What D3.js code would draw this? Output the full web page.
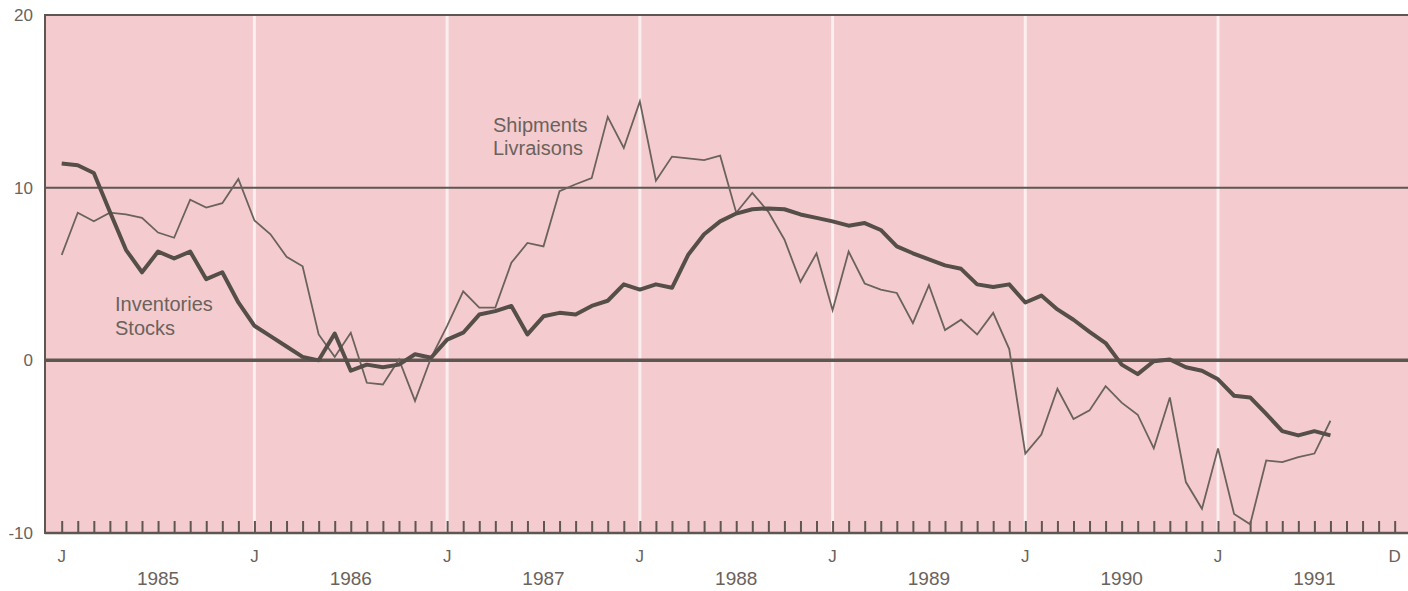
<!DOCTYPE html>
<meta charset="utf-8">
<style>
  body { margin: 0; background: #fff; }
  svg { display: block; }
  text { font-family: "Liberation Sans", Arial, Helvetica, sans-serif; fill: #6b625c; }
</style>
<svg width="1408" height="591"></svg>
<script src="https://d3js.org/d3.v7.min.js"></script>
<script>

// monthly % change, Jan 1985 .. Aug 1991
var inventories = [11.4, 11.3, 10.85, 8.6, 6.4, 5.1, 6.3, 5.9, 6.3, 4.7,
  5.1, 3.35, 2.0, 1.4, 0.8, 0.2, 0, 1.55, -0.6, -0.25,
  -0.4, -0.25, 0.35, 0.15, 1.2, 1.6, 2.65, 2.85, 3.15, 1.5,
  2.55, 2.75, 2.65, 3.15, 3.45, 4.4, 4.1, 4.4, 4.2, 6.1,
  7.3, 8.05, 8.5, 8.75, 8.8, 8.75, 8.45, 8.25, 8.05, 7.8,
  7.95, 7.55, 6.6, 6.2, 5.85, 5.5, 5.3, 4.4, 4.25, 4.4,
  3.35, 3.75, 2.95, 2.35, 1.65, 1.0, -0.25, -0.8, -0.05, 0.05,
  -0.4, -0.6, -1.1, -2.05, -2.15, -3.1, -4.1, -4.35, -4.1, -4.35];

var shipments = [6.1, 8.55, 8.05, 8.55, 8.45, 8.25, 7.4, 7.1, 9.3, 8.85,
  9.1, 10.5, 8.1, 7.3, 6.0, 5.45, 1.5, 0.2, 1.6, -1.3,
  -1.4, 0.05, -2.35, 0.15, 2.0, 4.0, 3.05, 3.05, 5.65, 6.8,
  6.6, 9.8, 10.2, 10.55, 14.1, 12.3, 15.0, 10.4, 11.8, 11.7,
  11.6, 11.85, 8.55, 9.7, 8.6, 7.0, 4.55, 6.2, 2.9, 6.3,
  4.45, 4.1, 3.9, 2.15, 4.35, 1.75, 2.35, 1.5, 2.75, 0.65,
  -5.4, -4.3, -1.65, -3.4, -2.9, -1.5, -2.45, -3.15, -5.1, -2.15,
  -7.05, -8.6, -5.1, -8.9, -9.5, -5.8, -5.9, -5.6, -5.4, -3.5];

var years = [1985, 1986, 1987, 1988, 1989, 1990, 1991];
var yTicks = [20, 10, 0, -10];
var monthCount = 84;

var svg = d3.select("svg");
var ink = "#5e5650";

var plotLeft = 45, plotRight = 1408, plotTop = 15, plotBottom = 533;

var x = d3.scaleLinear().domain([0, monthCount]).range([61.7, 61.7 + monthCount * 16.06]);
var y = d3.scaleLinear().domain([-10, 20]).range([plotBottom, plotTop]);

// pink plot area
svg.append("rect")
  .attr("x", plotLeft).attr("y", plotTop)
  .attr("width", plotRight - plotLeft).attr("height", plotBottom - plotTop)
  .attr("fill", "#f4ccd0");

// white year separators
svg.append("g").selectAll("line")
  .data(years.slice(1))
  .join("line")
  .attr("x1", function(d, i){ return x((i + 1) * 12); })
  .attr("x2", function(d, i){ return x((i + 1) * 12); })
  .attr("y1", plotTop).attr("y2", plotBottom)
  .attr("stroke", "#fbeeee").attr("stroke-width", 3);

// horizontal rules
svg.append("line").attr("x1", plotLeft).attr("x2", plotRight)
  .attr("y1", y(20)).attr("y2", y(20))
  .attr("stroke", ink).attr("stroke-width", 2);
svg.append("line").attr("x1", plotLeft).attr("x2", plotRight)
  .attr("y1", y(10)).attr("y2", y(10))
  .attr("stroke", ink).attr("stroke-width", 2);
svg.append("line").attr("x1", plotLeft).attr("x2", plotRight)
  .attr("y1", y(0)).attr("y2", y(0))
  .attr("stroke", ink).attr("stroke-width", 3.5);
svg.append("line").attr("x1", plotLeft).attr("x2", plotLeft)
  .attr("y1", plotTop - 1).attr("y2", plotBottom + 1)
  .attr("stroke", ink).attr("stroke-width", 2);

// month ticks along the bottom
var xAxis = d3.axisTop(x)
  .tickValues(d3.range(monthCount))
  .tickSize(12)
  .tickFormat("");
var ax = svg.append("g").attr("transform", "translate(0," + plotBottom + ")").call(xAxis);
ax.select(".domain").remove();
ax.selectAll(".tick line").attr("stroke", ink).attr("stroke-width", 2);
svg.append("line").attr("x1", plotLeft).attr("x2", plotRight)
  .attr("y1", plotBottom).attr("y2", plotBottom)
  .attr("stroke", ink).attr("stroke-width", 2.5);

// y labels
svg.append("g").selectAll("text")
  .data(yTicks)
  .join("text")
  .attr("x", 33)
  .attr("y", function(d){ return y(d) + 6; })
  .attr("text-anchor", "end")
  .attr("font-size", 17)
  .text(function(d){ return d; });

// month letters
var monthLabels = years.map(function(yr, i){ return {m: i * 12, t: "J"}; });
monthLabels.push({m: 83, t: "D"});
svg.append("g").selectAll("text")
  .data(monthLabels)
  .join("text")
  .attr("x", function(d){ return x(d.m); })
  .attr("y", 562)
  .attr("text-anchor", "middle")
  .attr("font-size", 17)
  .text(function(d){ return d.t; });

// year labels
svg.append("g").selectAll("text")
  .data(years)
  .join("text")
  .attr("x", function(d, i){ return x(i * 12 + 6); })
  .attr("y", 585)
  .attr("text-anchor", "middle")
  .attr("font-size", 19)
  .text(function(d){ return d; });

var line = d3.line()
  .x(function(d, i){ return x(i); })
  .y(function(d){ return y(d); });

svg.append("path")
  .datum(shipments)
  .attr("d", line)
  .attr("fill", "none")
  .attr("stroke", "#6b625c")
  .attr("stroke-width", 1.8)
  .attr("stroke-linejoin", "miter");

svg.append("path")
  .datum(inventories)
  .attr("d", line)
  .attr("fill", "none")
  .attr("stroke", "#564e48")
  .attr("stroke-width", 4)
  .attr("stroke-linejoin", "round");

// series labels
var notes = [
  {t: "Inventories", x: 115, y: 311},
  {t: "Stocks", x: 115, y: 335},
  {t: "Shipments", x: 493, y: 132},
  {t: "Livraisons", x: 493, y: 155}
];
svg.append("g").selectAll("text")
  .data(notes)
  .join("text")
  .attr("x", function(d){ return d.x; })
  .attr("y", function(d){ return d.y; })
  .attr("font-size", 20)
  .text(function(d){ return d.t; });

</script>
